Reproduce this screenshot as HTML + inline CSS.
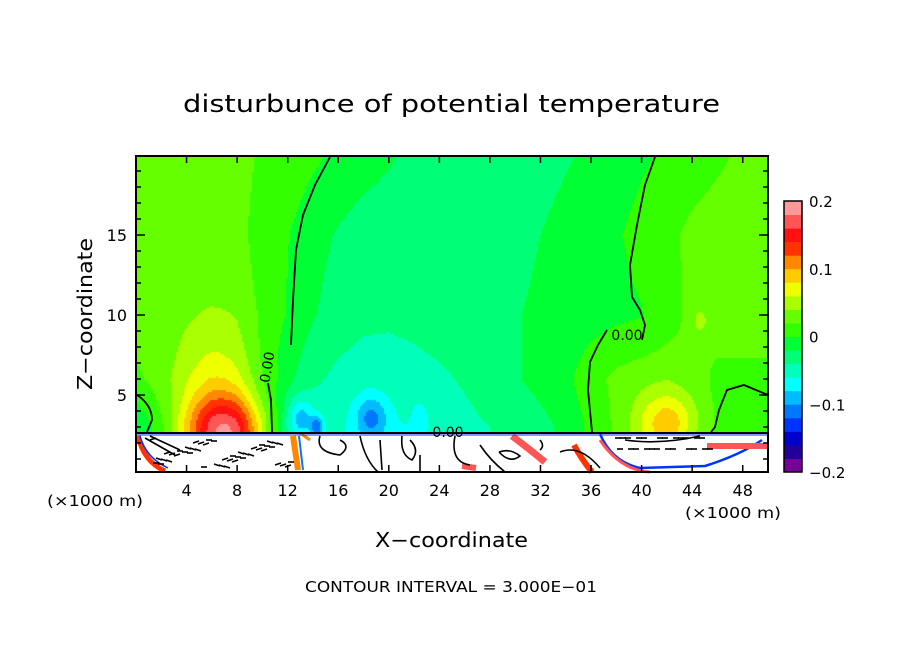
<!DOCTYPE html>
<html><head><meta charset="utf-8"><style>
html,body{margin:0;padding:0;background:#fff;}
#wrap{position:relative;width:904px;height:654px;overflow:hidden;}
canvas{position:absolute;left:0;top:0;}
svg{position:absolute;left:0;top:0;}
text{font-family:"DejaVu Sans","Liberation Sans",sans-serif;fill:#000;}
</style></head><body>
<div id="wrap">
<canvas id="field" width="904" height="654"></canvas>
<svg id="ov" width="904" height="654"></svg>
</div>
<script>
// ---- data ----
const xGrid = [0,2,4,6,8,10,12,14,16,18,20,22,24,26,28,30,32,34,36,38,40,42,44,46,48,50];
const zLevels = [3,6,10,15,20];
const row3  = [-.02,0,.02,.03,.025,-.01,-.045,-.05,-.055,-.06,-.06,-.06,-.05,-.045,-.04,-.032,-.026,-.015,.005,.02,.03,.03,.01,.01,.012,.012];
const row6  = [.015,.025,.03,.03,.025,.004,-.016,-.036,-.045,-.048,-.048,-.046,-.043,-.038,-.03,-.022,-.014,-.005,.012,.025,.03,.03,.025,.015,.015,.015];
const row10 = [.03,.03,.03,.03,.028,.012,-.002,-.018,-.03,-.036,-.037,-.035,-.032,-.028,-.024,-.021,-.017,-.013,-.009,-.005,-.001,.012,.024,.03,.03,.03];
const row15 = [.03,.03,.03,.03,.024,.014,.001,-.012,-.022,-.03,-.033,-.033,-.033,-.032,-.03,-.025,-.02,-.014,-.008,-.002,.006,.015,.025,.03,.03,.03];
const row20 = [.03,.03,.03,.03,.025,.018,.012,.004,-.004,-.01,-.017,-.025,-.03,-.03,-.03,-.03,-.027,-.022,-.017,-.01,-.003,.003,.009,.016,.024,.03];
const blobX   = [7.3, 6.5, 13.0, 14.3, 18.6, 22.5, 42.2, 44.6];
const blobZ   = [2.7, 3.0, 3.6, 3.0, 3.6, 3.5, 3.2, 9.6];
const blobAmp = [0.10, 0.06, -0.05, -0.06, -0.05, -0.02, 0.065, 0.02];
const blobSX  = [2.3, 2.3, 0.7, 0.35, 0.9, 0.4, 1.8, 0.5];
const blobSZ  = [1.5, 4.0, 0.9, 0.5, 1.0, 0.7, 1.4, 0.7];
const binColors = ["#770099","#220099","#0000cc","#0033ff","#0077ff","#00bbff","#00ffff","#00ffbb","#00ff77","#00ff33","#33ff00","#66ff00","#aaff00","#eeff00","#ffcc00","#ff8800","#ff3300","#ff1111","#ff5555","#ff9999"];
const cbarLabels = ["0.2","0.1","0","\u22120.1","\u22120.2"];
const cbarLabelVals = [0.2,0.1,0,-0.1,-0.2];
const xTickVals = [4,8,12,16,20,24,28,32,36,40,44,48];
const yTickVals = [5,10,15];

// ---- scales ----
const PL=136, PR=768, PT=156, PB=472;
const xs = x => 136 + 12.64*x;
const zs = z => 475 - 16*z;
const xinv = p => (p-136)/12.64;
const zinv = p => (475-p)/16;
const CB_T=201, CB_B=472;
const cs = v => CB_B - (v+0.2)/0.4*(CB_B-CB_T);

const rows=[row3,row6,row10,row15,row20];
function rowAt(r,x){
  let i=Math.min(Math.max(Math.floor(x/2),0),xGrid.length-2);
  let t=(x-xGrid[i])/2; t=Math.max(0,Math.min(1,t));
  return r[i]*(1-t)+r[i+1]*t;
}
function field(x,z){
  let zc=Math.max(zLevels[0],Math.min(zLevels[zLevels.length-1],z));
  let k=0; while(k<zLevels.length-2 && zc>zLevels[k+1]) k++;
  let t=(zc-zLevels[k])/(zLevels[k+1]-zLevels[k]);
  let v=rowAt(rows[k],x)*(1-t)+rowAt(rows[k+1],x)*t;
  for(let b=0;b<blobX.length;b++){
    const dx=(x-blobX[b])/blobSX[b], dz=(z-blobZ[b])/blobSZ[b];
    v+=blobAmp[b]*Math.exp(-0.5*(dx*dx+dz*dz));
  }
  return v;
}
const ctx=document.getElementById('field').getContext('2d');
const step=2;
for(let py=PT;py<PB;py+=step){
  for(let px=PL;px<PR;px+=step){
    const v=field(xinv(px+1),zinv(py+1));
    let bi=Math.floor((v+0.2)/0.02); bi=Math.max(0,Math.min(19,bi));
    ctx.fillStyle=binColors[bi];
    ctx.fillRect(px,py,step,step);
  }
}

// ---- overlay ----
const NS="http://www.w3.org/2000/svg";
const ov=document.getElementById('ov');
function mk(tag,attrs,parent){const e=document.createElementNS(NS,tag);for(const k in attrs)e.setAttribute(k,attrs[k]);(parent||ov).appendChild(e);return e;}

const low=mk('g',{});


mk('rect',{x:PL,y:433,width:PR-PL,height:PB-433,fill:'#fff'},low);
const strips=[
 ["M138,436 Q144,462 165,471","#ff3300",5],["M140,436 Q146,458 168,468","#0033ff",1.5],
 ["M293,436 L298,470","#ff8800",6],["M299,436 L303,470","#0077ff",2],
 ["M512,436 Q528,448 545,462","#ff5555",7],["M574,445 Q582,460 592,472","#ff3300",6],
 ["M600,434 Q612,462 640,468 L705,466 Q740,455 762,440","#0033ff",2.5],
 ["M600,440 Q620,470 650,472","#ff5555",3],["M707,446 L768,446","#ff5555",6],
 ["M462,466 L476,468","#ff5555",6],["M300,433 L310,440","#ff8800",3]
];
strips.forEach(s=>mk('path',{d:s[0],stroke:s[1],'stroke-width':s[2],fill:'none'},low));
const scrib=[
 "M145,438 L175,455","M150,436 L180,450","M320,436 Q315,452 340,455 Q352,446 340,440",
 "M360,436 Q365,460 378,472","M402,436 Q400,455 412,460 Q420,450 410,440","M455,436 Q450,462 470,465",
 "M499,452 Q510,448 520,456 Q510,464 499,452","M540,440 Q545,446 540,450","M560,452 Q580,444 600,468",
 "M420,472 L420,455","M625,440 Q660,445 700,436","M380,440 L382,470","M480,445 Q490,460 505,472"
];
scrib.forEach(d=>mk('path',{d:d,stroke:'#000','stroke-width':1.6,fill:'none'},low));
for(let i=0;i<46;i++){
  const x0=150+((i*37)%140), y0=440+((i*13)%28);
  mk('line',{x1:x0,y1:y0,x2:x0+6,y2:y0+((i%3)-1)*2,stroke:'#000','stroke-width':1.6},low);
}
for(let i=0;i<24;i++){
  const x0=615+((i*29)%95), y0=438+((i*11)%22);
  mk('line',{x1:x0,y1:y0,x2:x0+6,y2:y0,stroke:'#000','stroke-width':1.6},low);
}
mk('line',{x1:PL,y1:433,x2:PR,y2:433,stroke:'#000','stroke-width':2},low);
mk('line',{x1:PL,y1:435,x2:PR,y2:435,stroke:'#0033ff','stroke-width':1},low);

const cont=mk('g',{fill:'none',stroke:'#000','stroke-width':1.8});


mk('path',{d:"M330,157 L315,185 L303,215 L296,250 L293,300 L291,345"},cont);
mk('path',{d:"M268,383 L271,400 L272,432"},cont);
mk('path',{d:"M655,157 L645,185 L637,225 L630,265 L632,297 L640,310 L645,325 L642,340"},cont);
mk('path',{d:"M607,330 L598,345 L590,362 L588,390 L592,432"},cont);
mk('path',{d:"M768,395 L744,385 L727,390 L719,410 L715,427 L711,432"},cont);
mk('path',{d:"M137,395 Q152,405 152,420 L147,432"},cont);
const lbl=[["0.00",272,368,-80],["0.00",627,340,0],["0.00",448,437,0]];
lbl.forEach(l=>{const t=mk('text',{x:l[1],y:l[2],'font-size':14,'text-anchor':'middle',transform:`rotate(${l[3]} ${l[1]} ${l[2]})`});t.textContent=l[0];});

const axes=mk('g',{stroke:'#000','stroke-width':1.5});


mk('rect',{x:PL,y:PT,width:PR-PL,height:PB-PT,fill:'none','stroke-width':2},axes);
xTickVals.forEach(v=>{const x=xs(v);mk('line',{x1:x,y1:PT,x2:x,y2:PT+7},axes);mk('line',{x1:x,y1:PB,x2:x,y2:PB-7},axes);});
for(let z=1;z<=19;z++){const y=zs(z);const L=(z%5===0)?9:5;mk('line',{x1:PL,y1:y,x2:PL+L,y2:y},axes);mk('line',{x1:PR,y1:y,x2:PR-L,y2:y},axes);}

function txt(s,x,y,size,anchor,name,extra){const t=mk('text',Object.assign({x:x,y:y,'font-size':size,'text-anchor':anchor||'start'},extra||{}));t.textContent=s;return t;}
xTickVals.forEach(v=>txt(String(v),xs(v),496,16,'middle','x-tick-label'));
yTickVals.forEach(v=>txt(String(v),127,zs(v)+6,16,'end','y-tick-label'));
txt("disturbunce of potential temperature",183,112,24,'start','chart-title',{textLength:537,lengthAdjust:'spacingAndGlyphs'});
txt("X\u2212coordinate",375,547,20,'start','x-axis-title',{textLength:153,lengthAdjust:'spacingAndGlyphs'});
txt("Z\u2212coordinate",0,0,20,'middle','y-axis-title',{transform:'translate(92,314) rotate(-90)',textLength:152,lengthAdjust:'spacingAndGlyphs'});
txt("(\u00d71000 m)",47,506,15,'start','x-unit-left',{textLength:96,lengthAdjust:'spacingAndGlyphs'});
txt("(\u00d71000 m)",685,518,15,'start','x-unit-right',{textLength:96,lengthAdjust:'spacingAndGlyphs'});
txt("CONTOUR INTERVAL = 3.000E\u221201",305,592,15,'start','contour-interval-note',{textLength:292,lengthAdjust:'spacingAndGlyphs'});

const cb=mk('g',{});


const bh=(CB_B-CB_T)/binColors.length;
binColors.forEach((c,i)=>{const r=mk('rect',{x:784,y:CB_B-(i+1)*bh,width:18,height:bh+0.5,fill:c},cb);});
mk('rect',{x:784,y:CB_T,width:18,height:CB_B-CB_T,fill:'none',stroke:'#000','stroke-width':1.5},cb);
cbarLabels.forEach((s,i)=>txt(s,809,cs(cbarLabelVals[i])+6,15,'start','colorbar-label'));
</script>
</body></html>
